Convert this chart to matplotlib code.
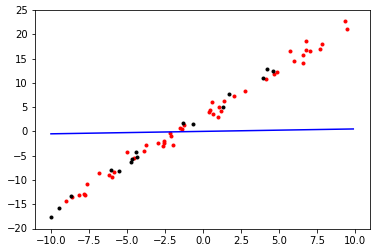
import matplotlib
matplotlib.use("Agg")
import matplotlib.pyplot as plt

# red samples
red_x = [-9.01, -8.6, -8.14, -7.85, -7.74, -7.61, -6.82, -6.2, -5.97, -5.84,
         -4.98, -4.56, -3.86, -3.73, -2.94, -2.61, -2.55, -2.55, -2.15, -2.09,
         -1.95, -1.49, -1.4, -1.25, 0.41, 0.48, 0.61, 0.68, 1.01, 1.07, 1.2,
         1.4, 2.06, 2.78, 4.16, 4.69, 4.89, 5.74, 6.01, 6.6, 6.6, 6.8, 6.8,
         7.06, 7.72, 7.85, 9.36, 9.49]
red_y = [-14.33, -13.57, -13.16, -12.96, -13.16, -10.9, -8.63, -9.04, -9.45, -8.42,
         -4.3, -5.54, -4.1, -2.86, -2.45, -3.07, -2.04, -2.45, -0.39, -1.0,
         -2.86, 0.64, 0.43, 1.26, 3.93, 4.35, 5.99, 3.52, 2.9, 4.96, 4.14,
         6.2, 7.23, 8.26, 10.73, 11.76, 12.17, 16.5, 14.44, 14.02, 15.67, 16.7, 18.55,
         16.5, 16.91, 17.94, 22.67, 21.03]

# black samples
black_x = [-10.0, -9.45, -8.66, -6.03, -5.51, -4.72, -4.65, -4.41, -4.32, -1.3,
           -0.64, 1.34, 1.73, 3.97, 4.23, 4.63]
black_y = [-17.69, -15.84, -13.37, -8.01, -8.22, -6.36, -5.75, -4.3, -5.33, 1.67,
           1.47, 4.96, 7.64, 10.94, 12.79, 12.38]

# fitted line
line_x = [-10.0, 9.9]
line_y = [-0.5, 0.5]

W, H = 377, 252
fig = plt.figure(figsize=(W / 72, H / 72), dpi=72)
ax = fig.add_axes([35 / W, 1 - 228.5 / H, 335 / W, 218.5 / H])

ax.plot(red_x, red_y, "r.")
ax.plot(black_x, black_y, "k.")
ax.plot(line_x, line_y, "b-")

ax.set_xlim(-11.05, 11.0)
ax.set_ylim(-20, 25)
ax.set_xticks([-10, -7.5, -5, -2.5, 0, 2.5, 5, 7.5, 10])
ax.set_yticks([-20, -15, -10, -5, 0, 5, 10, 15, 20, 25])

fig.savefig("out.png", dpi=72)
